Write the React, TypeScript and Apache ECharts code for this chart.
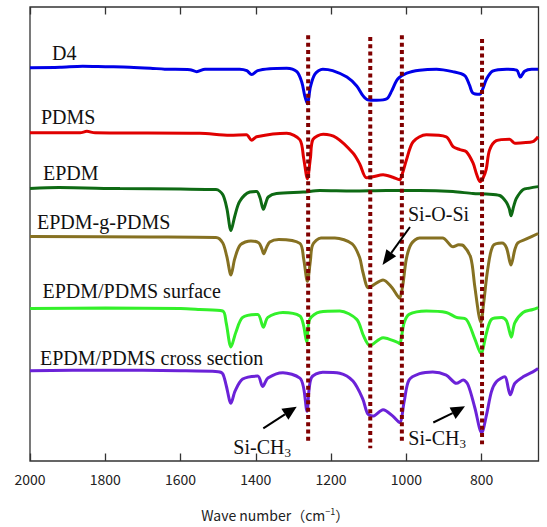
import React, { useEffect, useRef } from "react";
import * as echarts from "echarts";

// Wavenumber ticks (cm-1)
const tickValues = [800, 1000, 1200, 1400, 1600, 1800, 2000];

// Spectra: [wavenumber, offset transmittance (a.u.)]
const d4: [number, number][] = [
  [2000, 398.5], [1920, 399], [1860, 400], [1800, 399.5], [1735, 399], [1680, 398],
  [1642, 397], [1575, 396.5], [1557, 394.5], [1535, 397], [1443, 397], [1424, 395.5],
  [1411, 391.5], [1395, 395.5], [1363, 397.5], [1318, 398], [1291, 394.5], [1278, 384],
  [1270, 370], [1263, 362], [1255, 379], [1243, 392], [1222, 397], [1196, 395.5],
  [1158, 389], [1132, 380], [1116, 370.5], [1103, 366], [1079, 365.5], [1052, 367],
  [1039, 375], [1023, 387], [999, 393], [965, 396], [920, 397], [877, 394.5],
  [845, 390.5], [832, 380.5], [824, 373], [805, 371.5], [797, 377], [787, 387],
  [771, 395], [734, 397], [707, 396], [697, 389], [686, 395], [667, 397], [650, 397],
];

const pdms: [number, number][] = [
  [2000, 332.5], [1867, 332.5], [1849, 334], [1827, 332.5], [1549, 332], [1469, 330],
  [1425, 330.5], [1411, 325], [1398, 328.5], [1318, 332], [1283, 325.5], [1273, 307],
  [1263, 286], [1255, 307], [1248, 326], [1221, 331], [1186, 327.5], [1142, 312],
  [1124, 301], [1106, 287], [1089, 288], [1062, 290], [1036, 287.5], [1018, 285],
  [1010, 292], [1000, 305], [982, 323.5], [947, 330.5], [894, 328.5], [876, 318.5],
  [858, 315.5], [841, 313.5], [823, 302], [813, 290], [804, 283], [796, 287],
  [788, 295.5], [779, 315], [761, 324.5], [726, 326], [712, 322], [690, 322.5],
  [664, 323.5], [650, 328.5],
];

const epdm: [number, number][] = [
  [2000, 276], [1923, 277], [1761, 276], [1600, 275.5], [1506, 275], [1488, 270],
  [1477, 256], [1466, 233.5], [1456, 248], [1443, 263], [1416, 272.5], [1398, 273],
  [1389, 267], [1380, 255], [1373, 262], [1367, 267.5], [1345, 271], [1274, 272.5],
  [1230, 274], [1142, 273.5], [1053, 274], [965, 274], [876, 273], [823, 271],
  [788, 270.5], [752, 269], [735, 262.5], [727, 256], [722, 248.5], [715, 258],
  [708, 266], [690, 275], [673, 276.5], [650, 278],
];

const epdmGPdms: [number, number][] = [
  [2000, 227.5], [1681, 227], [1506, 226.5], [1488, 221], [1477, 207], [1466, 188.5],
  [1456, 205], [1441, 219], [1413, 223], [1392, 221], [1384, 215], [1379, 210],
  [1372, 216], [1363, 222], [1339, 224.5], [1283, 220.5], [1273, 205], [1263, 182],
  [1255, 203], [1249, 219], [1227, 226], [1190, 226], [1144, 220], [1124, 206],
  [1116, 192], [1101, 175.5], [1089, 178], [1062, 183.5], [1039, 176], [1023, 167],
  [1018, 165], [1010, 177], [1000, 205], [987, 220], [965, 226], [904, 226],
  [876, 217], [861, 219], [848, 218], [829, 206], [819, 179], [808, 149],
  [802, 140.5], [795, 159], [784, 194], [770, 218], [746, 221], [734, 216],
  [722, 198.5], [712, 214], [704, 221], [681, 225], [650, 230.5],
];

const surface: [number, number][] = [
  [2000, 154.5], [1800, 155], [1600, 154.5], [1549, 153.5], [1488, 152], [1479, 140.5],
  [1466, 115.5], [1453, 130.5], [1435, 145.5], [1395, 148.5], [1380, 135.5], [1368, 145.5],
  [1328, 150.5], [1283, 147], [1273, 137], [1265, 120.5], [1257, 143.5], [1230, 151],
  [1177, 152], [1132, 143.5], [1114, 127], [1097, 117], [1062, 125], [1022, 120],
  [1018, 119], [1006, 140], [993, 148.5], [947, 152], [894, 150.5], [867, 145.5],
  [841, 143.5], [818, 123.5], [802, 109], [787, 130], [774, 143.5], [747, 145.5],
  [734, 142], [721, 125.5], [712, 140], [690, 150.5], [664, 153.5], [650, 155.5],
];

const crossSection: [number, number][] = [
  [2000, 91.5], [1800, 92], [1600, 91.5], [1500, 90.5], [1488, 88.5], [1479, 77],
  [1466, 58.5], [1455, 71], [1435, 83], [1395, 86], [1382, 75.5], [1368, 84],
  [1328, 89.5], [1283, 84], [1273, 74], [1264, 50.5], [1253, 84], [1222, 90],
  [1177, 89], [1142, 81], [1116, 63], [1103, 48], [1089, 45.5], [1062, 52],
  [1036, 45.5], [1018, 39], [1006, 60], [993, 82], [965, 88.5], [930, 90.3],
  [894, 87], [867, 78.7], [849, 82], [836, 77], [818, 53.7], [800, 28.5],
  [787, 47], [774, 70.3], [761, 80.3], [739, 85.3], [724, 67], [712, 78.7],
  [690, 85.3], [664, 90.3], [650, 93.7],
];

const seriesNames = ["D4", "PDMS", "EPDM", "EPDM-g-PDMS", "EPDM/PDMS surface", "EPDM/PDMS cross section"];
const seriesColors = ["#0000e8", "#e00000", "#0e6a14", "#867122", "#33f02a", "#6b22d8"];
const seriesData = [d4, pdms, epdm, epdmGPdms, surface, crossSection];

// Marker (dotted) lines at characteristic bands
const peakLines = [1261, 1096, 1012, 799];
const peakLineTop = [431.3, 429.7, 431.3, 427.7];
const peakLineBottom = [20.3, 13, 20.3, 17];

const serif = "Liberation Serif";
const gothic = "Noto Sans CJK JP";

export default function App() {
  const ref = useRef<HTMLDivElement>(null);

  useEffect(() => {
    if (!ref.current) return;
    const chart = echarts.init(ref.current, undefined, { renderer: "svg" });

    const curveSeries = seriesData.map((data, i) => ({
      name: seriesNames[i],
      type: "line",
      data,
      symbol: "none",
      showSymbol: false,
      smooth: 0.3,
      silent: true,
      z: i === 3 ? 3 : 2,
      lineStyle: { color: seriesColors[i], width: 3 },
      itemStyle: { color: seriesColors[i] },
    }));

    const dottedSeries = peakLines.map((wn, i) => ({
      name: "band " + wn,
      type: "line",
      data: [[wn, peakLineTop[i]], [wn, peakLineBottom[i]]],
      symbol: "none",
      silent: true,
      z: 5,
      lineStyle: { color: "#800000", width: 4, type: [4, 3.3], cap: "butt" },
    }));

    const label = (text: string, x: number, y: number, size = 20) => ({
      type: "text",
      x,
      y,
      z: 10,
      style: {
        text,
        fontSize: size,
        fontFamily: serif,
        fill: "#111",
        align: "left",
        verticalAlign: "middle",
      },
    });

    const arrow = (
      tail: [number, number],
      base: [number, number],
      tip: [number, number],
      c1: [number, number],
      c2: [number, number]
    ) => [
      {
        type: "line",
        z: 10,
        shape: { x1: tail[0], y1: tail[1], x2: base[0], y2: base[1] },
        style: { stroke: "#000", lineWidth: 2 },
      },
      {
        type: "polygon",
        z: 10,
        shape: { points: [tip, c1, c2] },
        style: { fill: "#000" },
      },
    ];

    const tickCommon = {
      show: true,
      inside: true,
      length: 7.5,
      customValues: tickValues,
      lineStyle: { color: "#333", width: 1.3 },
    };

    chart.setOption({
      animation: false,
      grid: {
        left: 30,
        right: 8.5,
        top: 7,
        bottom: 60,
        show: true,
        borderColor: "#333",
        borderWidth: 1.3,
        backgroundColor: "transparent",
      },
      xAxis: [
        {
          type: "value",
          min: 649,
          max: 2000,
          inverse: true,
          position: "bottom",
          axisLine: { show: false },
          axisTick: tickCommon,
          axisLabel: {
            show: true,
            customValues: tickValues,
            margin: 11,
            fontSize: 14,
            fontFamily: gothic,
            color: "#222",
            formatter: (v: number) => String(v),
          },
          splitLine: { show: false },
          name: "{a|Wave number（cm}{s|−1}{a|）}",
          nameLocation: "middle",
          nameGap: 46,
          nameTextStyle: {
            fontFamily: gothic,
            fontSize: 14,
            color: "#222",
            padding: [0, 18, 0, 0],
            rich: {
              a: { fontFamily: gothic, fontSize: 14, color: "#222", lineHeight: 16 },
              s: { fontFamily: gothic, fontSize: 9, color: "#222", lineHeight: 16, verticalAlign: "top" },
            },
          },
        },
        {
          type: "value",
          min: 649,
          max: 2000,
          inverse: true,
          position: "top",
          axisLine: { show: false },
          axisTick: tickCommon,
          axisLabel: { show: false },
          splitLine: { show: false },
        },
      ],
      yAxis: {
        type: "value",
        min: 0,
        max: 460,
        show: false,
      },
      series: [...curveSeries, ...dottedSeries],
      graphic: [
        label("D4", 52, 53),
        label("PDMS", 41, 117),
        label("EPDM", 43, 173),
        label("EPDM-g-PDMS", 37, 222),
        label("EPDM/PDMS surface", 42.5, 290.5),
        label("EPDM/PDMS cross section", 40, 358),
        label("Si-O-Si", 408, 213.5),
        label("Si-CH", 233.3, 446.5),
        label("3", 284.5, 452.5, 13),
        label("Si-CH", 408.3, 437.5),
        label("3", 459.5, 443, 13),
        ...arrow([410, 227], [391.3, 252.8], [382.5, 265], [396.2, 256.3], [386.4, 249.3]),
        ...arrow([263.3, 428.3], [284.9, 414.3], [296.7, 406.7], [288.4, 419.8], [281.4, 408.8]),
        ...arrow([433.3, 422.5], [452.6, 413.2], [465, 406.3], [455.6, 419], [449.6, 407.4]),
      ],
    });

    return () => {
      chart.dispose();
    };
  }, []);

  return (
    <div
      ref={ref}
      style={{ position: "fixed", left: 0, top: 0, width: 547, height: 527, background: "#fff" }}
    />
  );
}
